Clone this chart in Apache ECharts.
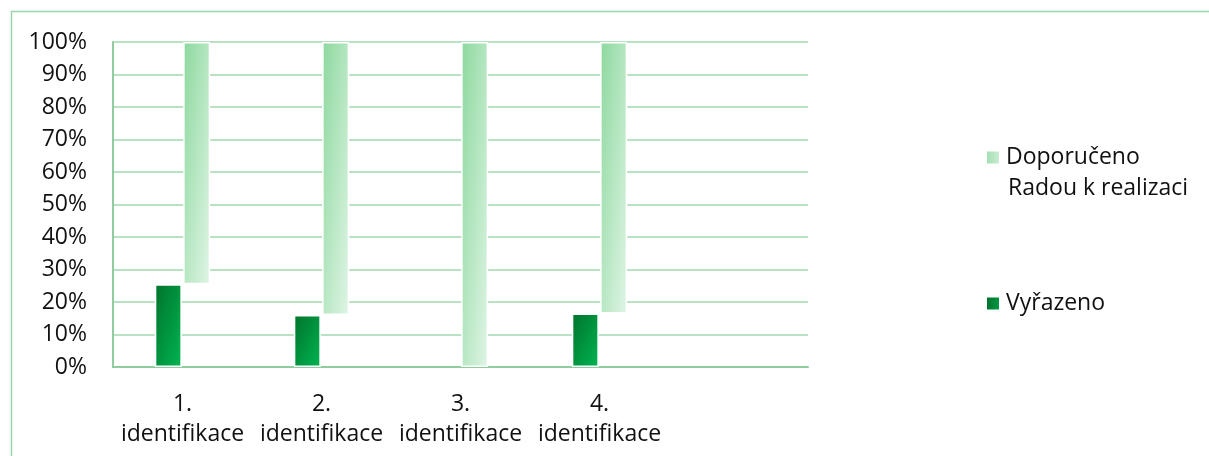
<!DOCTYPE html>
<html>
<head>
<meta charset="utf-8">
<script src="https://cdn.jsdelivr.net/npm/echarts@6/dist/echarts.min.js"></script>
<style>
  html, body { margin: 0; padding: 0; background: #fff; }
  #chart { width: 1209px; height: 456px; }
</style>
</head>
<body>
<div id="chart"></div>
<script>
// data
var categories = ['1.\nidentifikace', '2.\nidentifikace', '3.\nidentifikace', '4.\nidentifikace', ''];
var vyrazeno = [25.5, 16, 0, 16.5, null];
var doporuceno = [74.5, 84, 100, 83.5, null];
var yTicks = [0, 10, 20, 30, 40, 50, 60, 70, 80, 90, 100];

var chart = echarts.init(document.getElementById('chart'));
var font = '"Open Sans", "DejaVu Sans", sans-serif';
var green = '#8fcc9e';
var barW = 27;
var pxPerUnit = 3.25; // plot height 325px over 0..100

// diagonal gradient across the bar box (corner to corner, like the office fill)
function fill(value, c0, c1) {
  var h = Math.max(value * pxPerUnit, 1), w = barW;
  var x2 = 2 * h * h / (h * h + w * w);
  var y2 = 2 * w * w / (h * h + w * w);
  return new echarts.graphic.LinearGradient(0, 0, x2, y2, [
    { offset: 0, color: c0 },
    { offset: 1, color: c1 }
  ]);
}
var dark0 = '#00722b', dark1 = '#00b552';
var light0 = '#8cd89d', light1 = '#e0f5e6';

var darkData = vyrazeno.map(function (v) {
  if (v == null) return null;
  var st = { color: fill(v, dark0, dark1) };
  if (v === 0) st.borderWidth = 0;
  return { value: v, itemStyle: st };
});
var lightData = doporuceno.map(function (v) {
  return v == null ? null : { value: v, itemStyle: { color: fill(v, light0, light1) } };
});

chart.setOption({
  animation: false,
  backgroundColor: '#fff',
  textStyle: { fontFamily: font },
  graphic: [{
    type: 'rect',
    shape: { x: 11.5, y: 11.5, width: 1400, height: 600 },
    style: { fill: 'none', stroke: '#9ad4a9', lineWidth: 1.5 },
    silent: true
  }, {
    type: 'text',
    left: 1008, top: 177,
    style: { text: 'Radou k realizaci', fill: '#111', font: '23px ' + font }
  }],
  grid: { left: 113, right: 401, top: 42, bottom: 89, containLabel: false },
  legend: [{
    data: ['Doporučeno Radou k realizaci'],
    left: 987, top: 146, padding: 0,
    itemWidth: 12, itemHeight: 12,
    icon: 'rect',
    selectedMode: false,
    itemStyle: { borderWidth: 0 },
    formatter: function () { return 'Doporučeno'; },
    textStyle: { fontFamily: font, fontSize: 23, color: '#111', padding: [0, 0, 0, 2] }
  }, {
    data: ['Vyřazeno'],
    left: 987, top: 292, padding: 0,
    itemWidth: 12, itemHeight: 12,
    icon: 'rect',
    selectedMode: false,
    itemStyle: { borderWidth: 0 },
    textStyle: { fontFamily: font, fontSize: 23, color: '#111', padding: [0, 0, 0, 2] }
  }],
  xAxis: {
    type: 'category',
    data: categories,
    axisLine: { lineStyle: { color: green, width: 2 } },
    axisTick: { show: false },
    axisLabel: { color: '#111', fontSize: 23, lineHeight: 30, margin: 22, interval: 0 }
  },
  yAxis: {
    type: 'value',
    min: yTicks[0],
    max: yTicks[yTicks.length - 1],
    interval: 10,
    axisLine: { show: true, lineStyle: { color: green, width: 2 } },
    axisTick: { show: false },
    splitLine: { lineStyle: { color: '#a2d8b0', width: 1.5 } },
    axisLabel: { color: '#111', fontSize: 23, margin: 26, formatter: '{value}%' }
  },
  series: [{
    name: 'Vyřazeno',
    type: 'bar',
    stack: 'a',
    data: darkData,
    barWidth: barW,
    barGap: '5%',
    itemStyle: { color: fill(25, dark0, dark1), borderColor: '#fff', borderWidth: 1.5 }
  }, {
    name: 'base',
    type: 'bar',
    stack: 'b',
    data: vyrazeno,
    barWidth: barW,
    itemStyle: { color: 'transparent' },
    silent: true
  }, {
    name: 'Doporučeno Radou k realizaci',
    type: 'bar',
    stack: 'b',
    data: lightData,
    barWidth: barW,
    itemStyle: { color: new echarts.graphic.LinearGradient(0, 0, 1, 0, [
      { offset: 0, color: '#a6dfb3' }, { offset: 1, color: '#c9ecd2' }
    ]), borderColor: '#fff', borderWidth: 1.5 }
  }]
});
</script>
</body>
</html>
